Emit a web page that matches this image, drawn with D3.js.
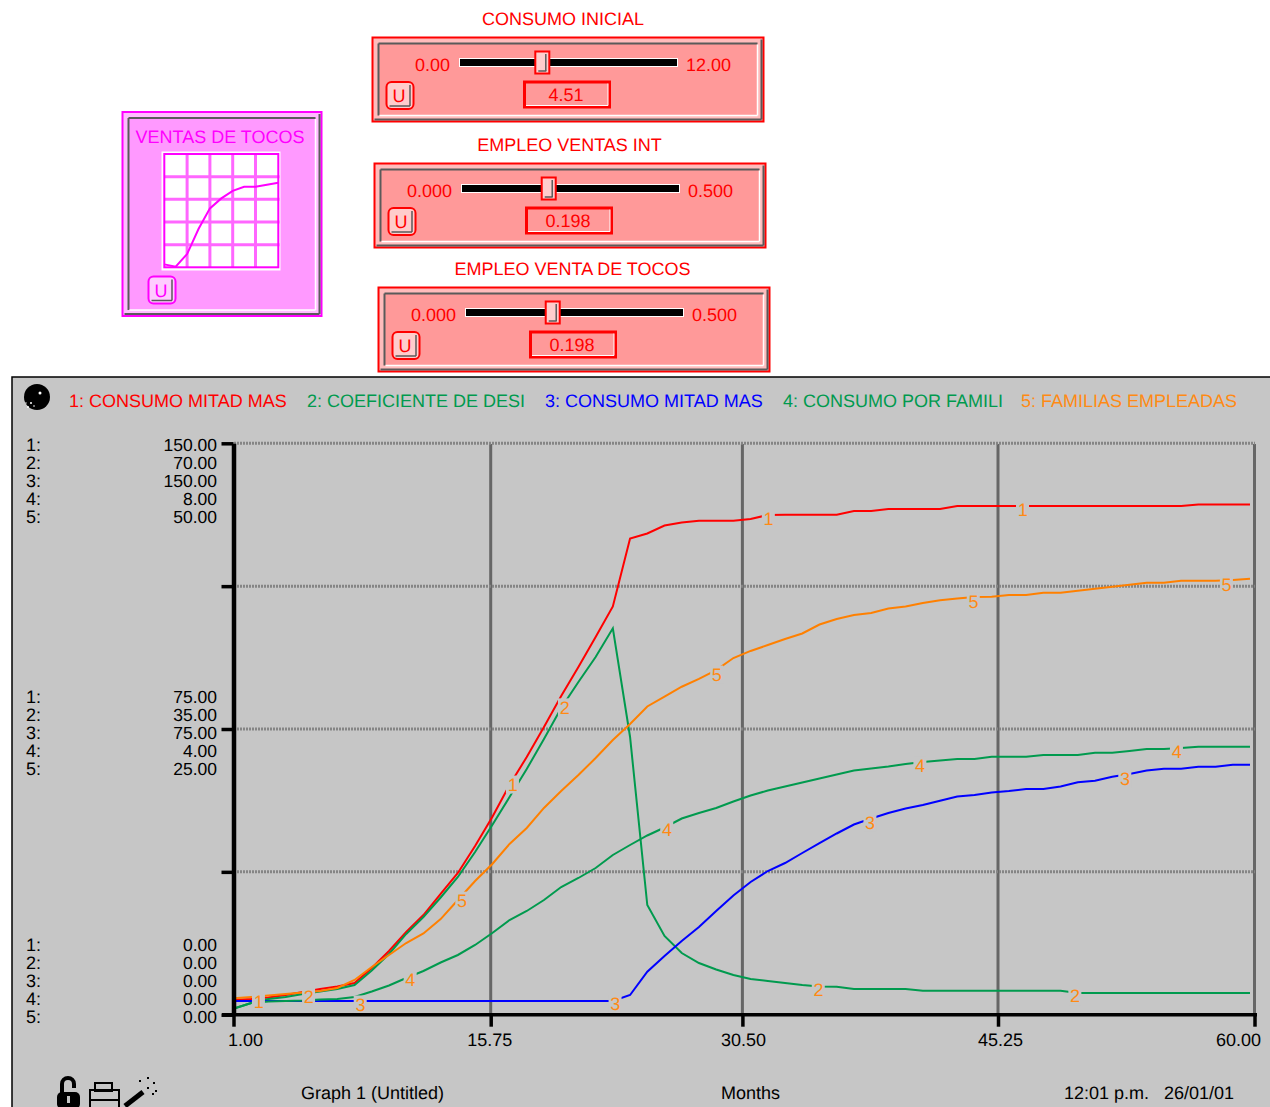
<!DOCTYPE html>
<html>
<head>
<meta charset="utf-8">
<script src="https://cdn.jsdelivr.net/npm/d3@7"></script>
<style>
  body { margin: 0; background: #fff; overflow: hidden; }
  text { font-family: "Liberation Sans", sans-serif; font-size: 18px; text-rendering: geometricPrecision; }
</style>
</head>
<body>
<script>
// data
var months = [1,2,3,4,5,6,7,8,9,10,11,12,13,14,15,16,17,18,19,20,21,22,23,24,25,26,27,28,29,30,
  31,32,33,34,35,36,37,38,39,40,41,42,43,44,45,46,47,48,49,50,51,52,53,54,55,56,57,58,59,60];

var consumoMitad1 = [3.86,4.12,4.52,5.17,5.96,6.75,7.40,8.32,12.26,16.72,
  21.71,26.17,31.69,37.20,44.28,51.90,60.30,67.65,75.52,83.66,
  91.27,99.15,107.16,125.01,126.32,128.42,129.21,129.68,129.68,129.68,
  130.13,131.18,131.26,131.26,131.26,131.26,132.23,132.23,132.75,132.75,
  132.75,132.75,133.54,133.54,133.54,133.54,133.54,133.54,133.54,133.54,
  133.54,133.54,133.54,133.54,133.54,133.54,133.93,133.93,133.93,133.93];
var coeficiente = [0.76,1.43,1.92,2.17,2.54,2.84,3.15,3.64,5.41,7.44,
  9.89,11.97,14.36,16.87,19.93,23.24,26.67,30.10,33.78,37.57,
  40.76,43.82,47.34,34.02,13.44,9.64,7.56,6.33,5.54,4.86,
  4.37,4.13,3.88,3.64,3.45,3.43,3.15,3.15,3.15,3.15,
  2.94,2.94,2.94,2.94,2.94,2.94,2.94,2.94,2.94,2.66,
  2.66,2.66,2.66,2.66,2.66,2.66,2.66,2.66,2.66,2.66];
var consumoMitad3 = [3.60,3.60,3.60,3.60,3.60,3.60,3.60,3.60,3.60,3.60,
  3.60,3.60,3.60,3.60,3.60,3.60,3.60,3.60,3.60,3.60,
  3.60,3.60,3.60,5.17,11.29,15.41,19.35,23.02,27.22,31.29,
  34.84,37.72,39.82,42.45,45.07,47.57,49.93,51.50,52.95,54.13,
  55.05,56.18,57.28,57.67,58.33,58.72,59.25,59.25,59.91,61.01,
  61.43,62.48,63.19,64.11,64.58,64.58,65.10,65.10,65.63,65.63];
var consumoFamilia = [0.087,0.164,0.185,0.192,0.199,0.213,0.220,0.248,0.325,0.409,
  0.514,0.612,0.731,0.836,0.976,1.144,1.326,1.452,1.606,1.788,
  1.914,2.054,2.236,2.376,2.509,2.621,2.747,2.824,2.894,2.985,
  3.069,3.139,3.195,3.251,3.307,3.363,3.419,3.447,3.475,3.510,
  3.538,3.559,3.580,3.580,3.612,3.612,3.612,3.636,3.636,3.636,
  3.668,3.668,3.692,3.720,3.720,3.734,3.752,3.752,3.752,3.752];
var familias = [1.44,1.55,1.68,1.81,1.94,2.07,2.34,3.04,4.17,5.22,
  6.27,7.11,8.37,10.04,11.70,13.19,14.94,16.34,18.09,19.57,
  20.97,22.46,24.04,25.44,26.97,27.84,28.70,29.38,30.16,31.21,
  31.83,32.35,32.88,33.36,34.14,34.63,34.98,35.15,35.54,35.72,
  36.03,36.26,36.42,36.55,36.58,36.73,36.73,36.93,36.93,37.10,
  37.28,37.45,37.63,37.80,37.80,37.98,37.98,37.98,38.04,38.15];

var seriesData = [consumoMitad1, coeficiente, consumoMitad3, consumoFamilia, familias];
var seriesMax = [150, 70, 150, 8, 50];
var seriesNames = ["1: CONSUMO MITAD MAS", "2: COEFICIENTE DE DESI", "3: CONSUMO MITAD MAS", "4: CONSUMO POR FAMILI", "5: FAMILIAS EMPLEADAS"];
var seriesColors = ["#ff0000", "#009a4e", "#0000ff", "#009a4e", "#ff8000"];
var legendColors = ["#ff0000", "#009a4e", "#0000ff", "#009a4e", "#ff8a14"];
var labelMonths = [[2.39,17.14,32.0,46.76], [5.3,20.16,34.9,49.8], [8.3,23.1,37.9,52.7], [11.2,26.1,40.8,55.7], [14.2,29.0,43.9,58.6]];
var xTicks = [1, 15.75, 30.5, 45.25, 60];
var yFractions = [1, 0.75, 0.5, 0.25, 0];
var yLabelFractions = [1, 0.5, 0];

var sliderTitles = ["CONSUMO INICIAL", "EMPLEO VENTAS INT", "EMPLEO VENTA DE TOCOS"];
var sliderMins = ["0.00", "0.000", "0.000"];
var sliderMaxs = ["12.00", "0.500", "0.500"];
var sliderTops = [12, 0.5, 0.5];
var sliderValues = [4.51, 0.198, 0.198];
var sliderText = ["4.51", "0.198", "0.198"];

var gfIndex = [0,1,2,3,4,5,6,7,8,9,10];
var gfValues = [2.6,0.5,11.7,33.8,52,60.8,67.5,71,71,72.8,74.6];

var svg = d3.select("body").append("svg").attr("width", 1270).attr("height", 1107);
var red = "#ff0000", magenta = "#ff00ff", dark = "#5a5a5a";

function box(x, y, w, h, fill, stroke, sw) {
  return svg.append("rect").attr("x", x).attr("y", y).attr("width", w).attr("height", h)
    .attr("fill", fill).attr("stroke", stroke || "none").attr("stroke-width", sw || 0);
}
function label(str, x, y, color, anchor) {
  return svg.append("text").attr("x", x).attr("y", y).attr("dy", "0.35em")
    .attr("fill", color).attr("text-anchor", anchor || "start").text(str);
}
function seg(x1, y1, x2, y2, color, w) {
  svg.append("line").attr("x1", x1).attr("y1", y1).attr("x2", x2).attr("y2", y2)
    .attr("stroke", color).attr("stroke-width", w);
}

// bevelled frame shared by sliders and the graphical function
function frame(x, y, w, h, col, fill, light) {
  box(x + 1, y + 1, w - 2, h - 2, light, col, 2);
  seg(x + w - 3, y + 3, x + w - 3, y + h - 3, dark, 2);
  seg(x + 3, y + h - 3, x + w - 3, y + h - 3, dark, 2);
  box(x + 7, y + 7, w - 14, h - 14, fill);
  seg(x + 7, y + 7, x + w - 7, y + 7, dark, 2);
  seg(x + 7, y + 7, x + 7, y + h - 7, dark, 2);
  seg(x + 8, y + h - 7, x + w - 7, y + h - 7, "#ffffff", 1.5);
  seg(x + w - 7, y + 8, x + w - 7, y + h - 7, "#ffffff", 1.5);
}
function uButton(x, y, col, light) {
  box(x + 1, y + 1, 27, 27, light, col, 2).attr("rx", 5);
  seg(x + 24.5, y + 4, x + 24.5, y + 25, dark, 1.5);
  seg(x + 4, y + 25, x + 24.5, y + 25, dark, 1.5);
  label("U", x + 13.5, y + 15, col, "middle");
}

// sliders
var sliderDx = [0, 2, 6], sliderDy = [0, 126, 250], titleX = [563, 569.5, 572.5];
sliderTitles.forEach(function(t, i) {
  var dx = sliderDx[i], dy = sliderDy[i];
  label(t, titleX[i], 19 + dy, red, "middle");
  frame(371.5 + dx, 36.5 + dy, 393, 86, red, "#ff9999", "#ffbcbc");
  label(sliderMins[i], 450 + dx, 65 + dy, red, "end");
  label(sliderMaxs[i], 686 + dx, 65 + dy, red);
  box(459.5 + dx, 58.5 + dy, 218, 8, "#000", "#fff", 1);
  var sx = d3.scaleLinear().domain([0, sliderTops[i]]).range([460 + dx, 679 + dx]);
  var t0 = sx(sliderValues[i]);
  box(t0 - 7, 51.5 + dy, 14, 22, "#ffcccc", red, 2);
  seg(t0 + 3.5, 54 + dy, t0 + 3.5, 71 + dy, dark, 1.5);
  seg(t0 - 4, 71 + dy, t0 + 4, 71 + dy, dark, 1.5);
  box(524.5 + dx, 82 + dy, 85, 25, "#ff9999", red, 3);
  seg(526 + dx, 105.5 + dy, 608 + dx, 105.5 + dy, "#fff", 1);
  seg(608 + dx, 83.5 + dy, 608 + dx, 105.5 + dy, "#fff", 1);
  label(sliderText[i], 566 + dx, 94.5 + dy, red, "middle");
  uButton(385.5 + dx, 81 + dy, red, "#ffcccc");
});

// graphical function widget
frame(121.5, 111, 201, 206, magenta, "#ff99ff", "#ffbcff");
label("VENTAS DE TOCOS", 220, 136.5, magenta, "middle");
box(161.5, 151.5, 119, 119, "#fff");
var gfX = d3.scaleLinear().domain([0, 10]).range([164.3, 278.3]);
var gfY = d3.scaleLinear().domain([0, 100]).range([267.3, 154]);
[2, 4, 6, 8].forEach(function(d) { seg(gfX(d), 154, gfX(d), 267.3, "#ff66ff", 3); });
[20, 40, 60, 80].forEach(function(d) { seg(164.3, gfY(d), 279.5, gfY(d), "#ff66ff", 3); });
box(164.3, 154, 114, 113.3, "none", magenta, 2);
svg.append("path")
  .attr("d", d3.line().x(function(d) { return gfX(d); }).y(function(d, i) { return gfY(gfValues[i]); })(gfIndex))
  .attr("fill", "none").attr("stroke", magenta).attr("stroke-width", 2);
uButton(147.5, 275.5, magenta, "#ffccff");

// graph panel
box(12, 377, 1270, 740, "#c6c6c6", "#000", 1.5);

var x = d3.scaleLinear().domain([1, 60]).range([234, 1250]);
var xTick = d3.scaleLinear().domain(xTicks).range([233.5, 490.7, 742.4, 998, 1254.5]);
var yBase = d3.scaleLinear().domain([0, 1]).range([1014.7, 443.3]);
var yScales = seriesMax.map(function(m) { return d3.scaleLinear().domain([0, m]).range([1014.7, 443.3]); });

// gridlines
xTicks.slice(1).forEach(function(d) { seg(xTick(d), 444, xTick(d), 1014, "#666666", 3); });
yFractions.slice(0, 4).forEach(function(d) {
  svg.append("line").attr("x1", 234).attr("x2", 1255).attr("y1", yBase(d)).attr("y2", yBase(d))
    .attr("stroke", "#858585").attr("stroke-width", 3).attr("stroke-dasharray", "2 1");
});

// series
seriesData.forEach(function(values, i) {
  var line = d3.line().x(function(d) { return x(d); }).y(function(d, k) { return yScales[i](values[k]); });
  svg.append("path").attr("d", line(months)).attr("fill", "none")
    .attr("stroke", seriesColors[i]).attr("stroke-width", 2);
});

// numbered tags sit on the lines and blank out what is behind them
function valueAt(values, m) {
  var k = Math.floor(m) - 1, f = m - Math.floor(m);
  return values[k] + f * (values[Math.min(k + 1, values.length - 1)] - values[k]);
}
labelMonths.forEach(function(list, i) {
  list.forEach(function(m) {
    var py = yScales[i](valueAt(seriesData[i], m)) + (i == 4 ? 4.5 : 3.5);
    box(x(m) - 6, py - 9, 13, 18, "#c6c6c6");
    label(String(i + 1), x(m) + 0.7, py, "#ff8a14", "middle");
  });
});

// axes
var axisBottom = svg.append("g").attr("class", "axis").attr("transform", "translate(0,1014.7)")
  .call(d3.axisBottom(xTick).tickValues(xTicks).tickSize(12).tickSizeOuter(0).tickFormat(d3.format(".2f")));
var axisLeft = svg.append("g").attr("class", "axis").attr("transform", "translate(233.5,0)")
  .call(d3.axisLeft(yBase).tickValues(yFractions).tickSize(12).tickSizeOuter(0).tickFormat(""));
svg.selectAll(".axis path, .axis line").attr("stroke", "#000").attr("stroke-width", 3.5);
axisLeft.select("path").attr("stroke-width", 4.5);
axisBottom.select("path").attr("d", "M222,0H1257");
var tickShift = [11.5, -1.5, 0.5, 2, -16.5];
axisBottom.selectAll("text").attr("y", 18.5).attr("dy", "0.71em").attr("fill", "#000")
  .style("font-family", '"Liberation Sans", sans-serif').style("font-size", "18px")
  .attr("dx", function(d, i) { return tickShift[i]; });

// stacked scale labels
var blockTop = [445, 697, 945];
yLabelFractions.forEach(function(f, b) {
  seriesMax.forEach(function(m, i) {
    var py = blockTop[b] + i * 18;
    label((i + 1) + ":", 26, py, "#000");
    label(d3.format(".2f")(yScales[i].invert(yBase(f))), 217, py, "#000", "end").style("font-size", "17.5px");
  });
});

// legend
var legendX = [69, 307, 545, 783, 1021];
seriesNames.forEach(function(n, i) { label(n, legendX[i], 401, legendColors[i]); });

// footer
label("Graph 1 (Untitled)", 301, 1093, "#000");
label("Months", 721, 1093, "#000");
label("12:01 p.m.", 1064, 1093, "#000");
label("26/01/01", 1164, 1093, "#000");

// icons
svg.append("circle").attr("cx", 37).attr("cy", 397).attr("r", 13).attr("fill", "#000");
[[40, 393, 1.5], [31, 403, 1], [34, 406, 0.8], [28, 407, 1], [26, 403, 0.7]].forEach(function(p) {
  svg.append("circle").attr("cx", p[0]).attr("cy", p[1]).attr("r", p[2]).attr("fill", "#fff");
});
svg.append("path").attr("d", "M62,1095V1084a6,6 0 0 1 12,0V1088").attr("fill", "none").attr("stroke", "#000").attr("stroke-width", 4);
box(57, 1092, 23, 17, "#000").attr("rx", 5);
box(67, 1096, 3, 7, "#c6c6c6");
box(95, 1083, 17, 8, "none", "#000", 2);
box(90, 1090, 29, 19, "none", "#000", 2);
seg(90, 1100, 119, 1100, "#000", 2);
seg(125, 1106, 143, 1092, "#000", 5);
[[139, 1080], [147, 1077], [153, 1082], [155, 1090], [147, 1087], [152, 1093]].forEach(function(p) {
  box(p[0], p[1], 2, 2, "#000");
});
</script>
</body>
</html>
